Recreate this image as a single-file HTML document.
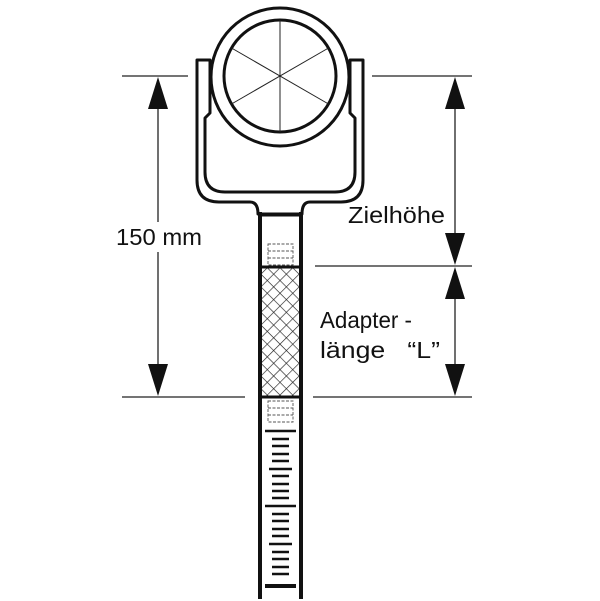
<!DOCTYPE html>
<html><head><meta charset="utf-8"><style>
html,body{margin:0;padding:0;background:#fff;width:600px;height:601px;overflow:hidden}
svg{display:block}
text{font-family:"Liberation Sans",sans-serif;fill:#111}
</style></head><body>
<svg width="600" height="601" viewBox="0 0 600 601" xmlns="http://www.w3.org/2000/svg">
<defs>
<pattern id="h" width="9" height="9" patternUnits="userSpaceOnUse" patternTransform="rotate(45)">
<line x1="0" y1="0" x2="0" y2="9" stroke="#222" stroke-width="1.3"/>
<line x1="0" y1="0" x2="9" y2="0" stroke="#222" stroke-width="1.3"/>
</pattern>
</defs>
<g stroke="#222" stroke-width="1.3" fill="none">
<line x1="122" y1="76" x2="188" y2="76"/>
<line x1="372" y1="76" x2="472" y2="76"/>
<line x1="315" y1="266" x2="472" y2="266"/>
<line x1="122" y1="397" x2="245" y2="397"/>
<line x1="313" y1="397" x2="472" y2="397"/>
<line x1="158" y1="100" x2="158" y2="222"/>
<line x1="158" y1="252" x2="158" y2="375"/>
<line x1="455" y1="100" x2="455" y2="240"/>
<line x1="455" y1="290" x2="455" y2="375"/>
</g>
<g fill="#111">
<polygon points="158,77 148,109 168,109"/>
<polygon points="158,396 148,364 168,364"/>
<polygon points="455,77 445,109 465,109"/>
<polygon points="455,265 445,233 465,233"/>
<polygon points="455,267 445,299 465,299"/>
<polygon points="455,396 445,364 465,364"/>
</g>
<text x="116" y="245" font-size="23" textLength="86" lengthAdjust="spacingAndGlyphs">150 mm</text>
<text x="348" y="223" font-size="23" textLength="97" lengthAdjust="spacingAndGlyphs">Zielhöhe</text>
<text x="320" y="328" font-size="23" textLength="92" lengthAdjust="spacingAndGlyphs">Adapter -</text>
<text x="320" y="358" font-size="23" textLength="120" lengthAdjust="spacingAndGlyphs">länge &#160;&#160;“L”</text>
<g stroke="#111" stroke-width="3" fill="#fff" stroke-linejoin="round">
<path d="M197,60 L210,60 L210,113 L205,118 L205,172 Q205,192 225,192 L335,192 Q355,192 355,172 L355,118 L350,113 L350,60 L363,60 L363,180 Q363,202 341,202 L310,202 Q302,202 302,214 L258,214 Q258,202 250,202 L219,202 Q197,202 197,180 Z"/>
<circle cx="280" cy="77" r="69"/>
<circle cx="280" cy="76" r="56"/>
</g>
<g stroke="#222" stroke-width="1">
<line x1="280" y1="20" x2="280" y2="132"/>
<line x1="231.5" y1="48" x2="328.5" y2="104"/>
<line x1="231.5" y1="104" x2="328.5" y2="48"/>
</g>
<rect x="262" y="214" width="37" height="390" fill="#fff"/>
<rect x="262" y="267" width="37" height="130" fill="url(#h)"/>
<g stroke="#111" stroke-width="4" fill="none">
<line x1="260" y1="212" x2="260" y2="599"/>
<line x1="301" y1="212" x2="301" y2="599"/>
<line x1="258" y1="214.5" x2="303" y2="214.5"/>
</g>
<g stroke="#111" stroke-width="3"><line x1="259" y1="267" x2="302" y2="267"/><line x1="259" y1="397" x2="302" y2="397"/></g>
<g stroke="#555" stroke-width="0.9" fill="none" stroke-dasharray="3,1.5">
<rect x="268" y="244" width="25" height="21"/>
<line x1="268" y1="251" x2="293" y2="251"/><line x1="268" y1="258" x2="293" y2="258"/>
<rect x="268" y="401" width="25" height="21"/>
<line x1="268" y1="408" x2="293" y2="408"/><line x1="268" y1="415" x2="293" y2="415"/>
</g>
<g stroke="#111" stroke-width="2.5">
<line x1="265" y1="431" x2="296" y2="431"/>
<line x1="272" y1="439" x2="289" y2="439"/>
<line x1="272" y1="446" x2="289" y2="446"/>
<line x1="272" y1="454" x2="289" y2="454"/>
<line x1="272" y1="461" x2="289" y2="461"/>
<line x1="269" y1="469" x2="292" y2="469"/>
<line x1="272" y1="476" x2="289" y2="476"/>
<line x1="272" y1="484" x2="289" y2="484"/>
<line x1="272" y1="491" x2="289" y2="491"/>
<line x1="272" y1="498" x2="289" y2="498"/>
<line x1="265" y1="506" x2="296" y2="506"/>
<line x1="272" y1="514" x2="289" y2="514"/>
<line x1="272" y1="521" x2="289" y2="521"/>
<line x1="272" y1="529" x2="289" y2="529"/>
<line x1="272" y1="536" x2="289" y2="536"/>
<line x1="269" y1="544" x2="292" y2="544"/>
<line x1="272" y1="552" x2="289" y2="552"/>
<line x1="272" y1="559" x2="289" y2="559"/>
<line x1="272" y1="567" x2="289" y2="567"/>
<line x1="272" y1="574" x2="289" y2="574"/>
</g>
<line x1="265" y1="586" x2="296" y2="586" stroke="#111" stroke-width="4"/>
</svg>
</body></html>
